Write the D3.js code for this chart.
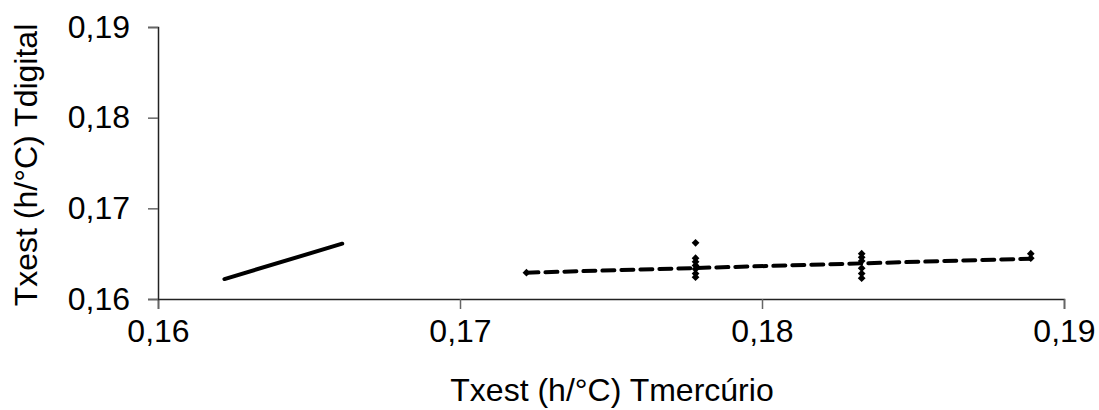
<!DOCTYPE html>
<html><head><meta charset="utf-8">
<script src="https://cdn.jsdelivr.net/npm/d3@7"></script>
<style>body{margin:0;background:#fff}text{font-family:"Liberation Sans",Arial,sans-serif}</style>
</head><body><svg id="c" width="1099" height="410"></svg>
<script>
const xTicks = [0.16, 0.17, 0.18, 0.19];
const yTicks = [0.16, 0.17, 0.18, 0.19];
const tMercurio = [0.1722, 0.1778, 0.1778, 0.1778, 0.1778, 0.1778, 0.1778, 0.1778, 0.1833, 0.1833, 0.1833, 0.1833, 0.1833, 0.1833, 0.1889, 0.1889];
const tDigital  = [0.1629, 0.1662, 0.1645, 0.1641, 0.1637, 0.1633, 0.1628, 0.1624, 0.1650, 0.1646, 0.1642, 0.1634, 0.1628, 0.1623, 0.1650, 0.1645];
const trendX = [0.1722, 0.1889];
const trendY = [0.1629, 0.16445];
const identityX = [0.1622, 0.1661];
const identityY = [0.1622, 0.1661];
const xTitle = "Txest (h/\u00B0C) Tmercúrio";
const yTitle = "Txest (h/\u00B0C) Tdigital";

const svg = d3.select("#c");
const x = d3.scaleLinear().domain([0.16, 0.19]).range([158, 1064]);
const y = d3.scaleLinear().domain([0.16, 0.19]).range([299, 27]);
const fmt = d => d3.format(".2f")(d).replace(".", ",");
const FS = 32;

const gx = svg.append("g").attr("transform", "translate(0,299)")
  .call(d3.axisBottom(x).tickValues(xTicks).tickFormat(fmt).tickSize(10));
const gy = svg.append("g").attr("transform", "translate(158,0)")
  .call(d3.axisLeft(y).tickValues(yTicks).tickFormat(fmt).tickSize(10).tickPadding(18));
[gx, gy].forEach(g => {
  g.attr("font-size", FS).attr("font-family", '"Liberation Sans",Arial,sans-serif');
  g.select(".domain").attr("stroke", "#222").attr("stroke-width", 1.5);
  g.selectAll(".tick line").attr("stroke", "#666").attr("stroke-width", 1.5);
  g.selectAll(".tick text").attr("fill", "#000");
});
gx.selectAll(".tick text").attr("y", 43).attr("dy", "0");

const line = d3.line().x(d => x(d[0])).y(d => y(d[1]));
svg.append("path").datum(identityX.map((v, i) => [v, identityY[i]]))
  .attr("d", line).attr("stroke", "#000").attr("stroke-width", 4).attr("fill", "none").attr("stroke-linecap", "round");
svg.append("path").datum(trendX.map((v, i) => [v, trendY[i]]))
  .attr("d", line).attr("stroke", "#000").attr("stroke-width", 4).attr("fill", "none")
  .attr("stroke-dasharray", "12,7").attr("stroke-linecap", "round");

const sym = d3.symbol().type(d3.symbolSquare).size(30);
svg.append("g").selectAll("path").data(tMercurio.map((v, i) => [v, tDigital[i]])).join("path")
  .attr("d", sym)
  .attr("transform", d => `translate(${x(d[0])},${y(d[1])}) rotate(45)`)
  .attr("fill", "#000");

svg.append("text").attr("x", 612).attr("y", 401).attr("text-anchor", "middle")
  .attr("font-size", FS).text(xTitle);
svg.append("text").attr("transform", "translate(37,165) rotate(-90)").attr("text-anchor", "middle")
  .attr("font-size", FS).text(yTitle);
</script></body></html>
